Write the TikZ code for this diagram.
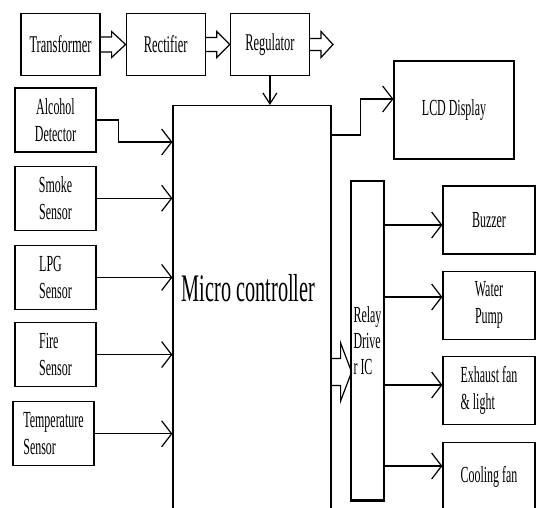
\documentclass[tikz,border=0pt]{standalone}
\usepackage{fontspec}
\setmainfont{Liberation Serif}[FakeStretch=0.52]
\usetikzlibrary{positioning,arrows.meta}

% hollow block arrow: start, length, half shaft, half head, head length
\newcommand{\fatarrow}[5]{%
  \draw[line join=miter] (#1) ++(0,-#3) -- ++(#2-#5,0) -- ++(0,#3-#4) -- ++(#5,#4)
    -- ++(-#5,#4) -- ++(0,#3-#4) -- ++(#5-#2,0);}

\begin{document}
\begin{tikzpicture}[x=1pt, y=-1pt, line width=1.2pt,
    blk/.style={draw, minimum width=81pt, minimum height=64pt, inner sep=2pt, align=center,
      font=\fontsize{23}{27}\selectfont},
    top/.style={blk, minimum width=79pt, minimum height=62pt, font=\fontsize{24}{27}\selectfont},
    outbox/.style={blk, minimum width=92pt, minimum height=68pt},
    arr/.style={-{Straight Barb[length=10pt,width=26pt]}}]
  \useasboundingbox (0,0) rectangle (536,507);
  \clip (0,0) rectangle (536,507);

  % power supply
  \node[top] (tr) at (60.5,44.5) {Transformer};
  \node[top, right=25pt of tr] (rec) {Rectifier};
  \node[top, right=24pt of rec] (reg) {Regulator};
  \fatarrow{tr.east}{25}{7.5}{13}{14}
  \fatarrow{rec.east}{24}{7}{13}{13}
  \fatarrow{reg.east}{23}{6}{13}{12}

  % sensors
  \node[blk] (alc) at (55.5,120) {Alcohol\\Detector};
  \node[blk, below=13pt of alc] (smk) {Smoke\\Sensor};
  \node[blk, below=14pt of smk, align=left] (lpg) {LPG\\Sensor};
  \node[blk, below=12pt of lpg, align=left] (fire) {Fire\\Sensor};
  \node[blk, below=14pt of fire, align=left, xshift=-2pt] (temp) {Temperature\\Sensor};

  % controller
  \node[draw, minimum width=158pt, minimum height=420pt, anchor=north] (mc) at (252,105) {};
  \node[font=\fontsize{39}{42}\selectfont] (mctxt) at (248.5,288) {Micro controller};
  \node[blk, minimum width=120pt, minimum height=98pt] (lcd) at (454,110) {LCD Display};

  % relay and loads
  \node[draw, minimum width=33pt, minimum height=319pt, inner sep=1pt, align=left,
    font=\fontsize{23}{26}\selectfont] (rly) at (367.5,340.5) {Relay\\Drive\\r IC};
  \draw[line width=3pt] (rly.south west) -- (rly.south east);
  \node[outbox] (buz) at (489,220) {Buzzer};
  \node[outbox, below=16pt of buz] (wp) {Water\\Pump};
  \node[outbox, below=16pt of wp, align=left] (exh) {Exhaust fan\\\& light};
  \node[outbox, below=17pt of exh] (cool) {Cooling fan};

  \draw[arr] (alc.east) -- ++(22,0) |- (mc.west |- 0,142);
  \draw[arr] (smk.east) -- (smk.east -| mc.west);
  \draw[arr] (lpg.east) -- (lpg.east -| mc.west);
  \draw[arr] (fire.east) -- (fire.east -| mc.west);
  \draw[arr] (temp.east) -- (temp.east -| mc.west);
  \draw[-{Straight Barb[length=11pt,width=14pt]}] (reg.south) -- (reg.south |- mc.north);
  \draw[arr] (mc.east |- 0,135) -- ++(29,0) |- ([yshift=11pt]lcd.west);
  \fatarrow{mc.east |- 0,372}{20}{13.5}{29}{11}

  \draw[arr] (rly.east |- 0,225) -- (buz.west |- 0,225);
  \draw[arr] (rly.east |- 0,297) -- (wp.west |- 0,297);
  \draw[arr] (rly.east |- 0,385) -- (exh.west |- 0,385);
  \draw[arr] (rly.east |- 0,466) -- (cool.west |- 0,466);
\end{tikzpicture}
\end{document}
